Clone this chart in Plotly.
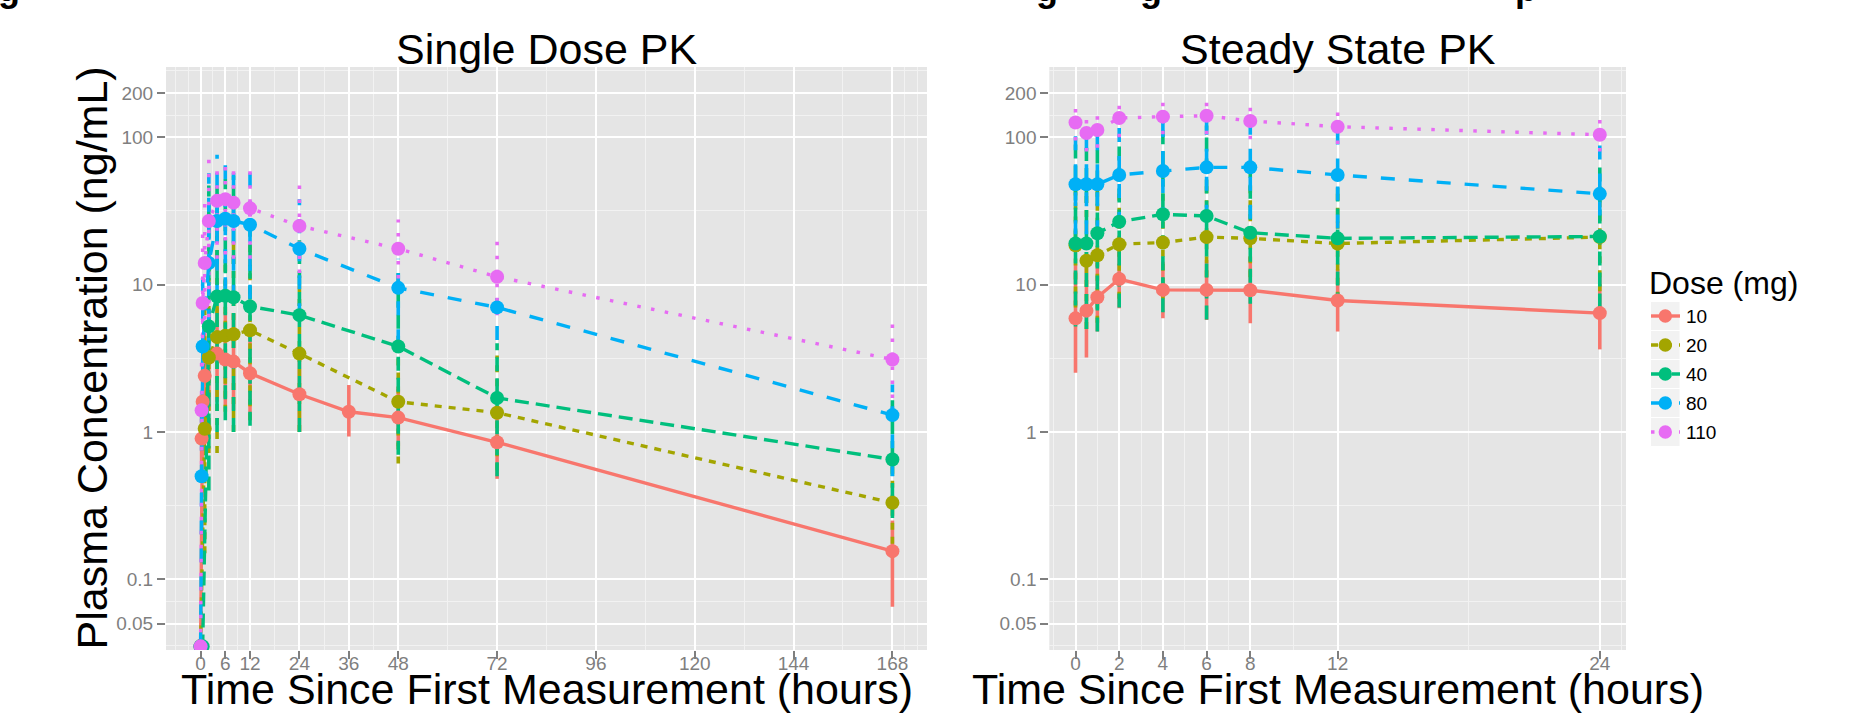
import math
import plotly.graph_objects as go

W, H = 1854, 719

DOSES = ["10", "20", "40", "80", "110"]
COLORS = {"10": "#F8766D", "20": "#A3A500", "40": "#00BF7D", "80": "#00B0F6", "110": "#E76BF3"}
DASH = {"10": "solid", "20": "7px,7px", "40": "14px,7px", "80": "14px,14px", "110": "3.5px,10.5px"}

# ---------------- Single dose data ----------------
SD_TIME = [0, 0.25, 0.5, 1, 2, 4, 6, 8, 12, 24, 36, 48, 72, 168]
SD_10 = [0.035, 0.9, 1.6, 2.4, 3.2, 3.4, 3.1, 3.0, 2.5, 1.8, 1.37, 1.25, 0.85, 0.155]
SD_10_LO = [None, 0.45, 0.7, 1.1, 1.4, 1.6, 1.5, 1.4, 1.2, 1.0, 0.93, 0.8, 0.48, 0.065]
SD_10_HI = [None, 1.8, 3.5, 5.0, 6.5, 7.0, 6.5, 6.3, 5.3, 3.3, 2.08, 1.95, 1.5, 0.25]
SD_20 = [0.035, None, None, 1.05, 3.2, 4.4, 4.5, 4.6, 4.9, 3.4, None, 1.6, 1.35, 0.33]
SD_20_LO = [None, None, None, 0.15, 0.72, 0.72, 1.37, 1.0, 1.2, 1.0, None, 0.61, 0.55, 0.14]
SD_20_HI = [None, None, None, 7.0, 14, 27, 15, 21, 20, 11.5, None, 4.2, 3.3, 0.78]
SD_40 = [0.035, None, 0.035, None, 5.2, 8.3, 8.4, 8.2, 7.1, 6.2, None, 3.8, 1.7, 0.65]
SD_40_LO = [None, None, None, None, 0.4, 1.0, 1.2, 1.0, 1.1, 1.0, None, 0.7, 0.5, 0.26]
SD_40_HI = [None, None, None, None, 47, 50, 52, 55, 40, 20, None, 12, 4.0, 1.64]
SD_80 = [0.035, 0.5, 3.8, None, 14, 27, 28, 27, 25.5, 17.5, None, 9.5, 7.0, 1.3]
SD_80_LO = [None, 0.2, 1.0, None, 3.5, 8, 9, 8, 8, 6, None, 4, 4.2, 0.5]
SD_80_HI = [None, 1.3, 14, None, 57, 76, 74, 68, 65, 38, None, 15, 10, 2.1]
SD_110 = [0.035, 1.4, 7.5, 14, 27, 37, 38, 36, 33, 25, None, 17.5, 11.3, 3.1]
SD_110_LO = [None, 0.6, 1.5, 3, 6, 15, 16, 15, 15, 12, None, 11, 6.2, 1.7]
SD_110_HI = [None, 3.2, 22, 40, 78, 62, 65, 62, 63, 52, None, 27.7, 20.6, 5.5]

# ---------------- Steady state data ----------------
SS_TIME = [0, 0.5, 1, 2, 4, 6, 8, 12, 24]
SS_10 = [5.9, 6.65, 8.2, 10.9, 9.2, 9.2, 9.15, 7.8, 6.4]
SS_10_LO = [2.52, 3.2, 4.8, 6.9, 5.9, 5.75, 5.46, 4.8, 3.63]
SS_10_HI = [13.8, 13.8, 14, 17, 14.3, 14.7, 15.3, 12.7, 11.3]
SS_20 = [18.5, 14.5, 15.8, 18.8, 19.3, 21, 20.6, 19, 21]
SS_20_LO = [7, 5, 5.5, 8, 8, 9, 9, 8, 9]
SS_20_HI = [48, 42, 45, 44, 47, 50, 47, 45, 48]
SS_40 = [19, 19, 22.3, 26.7, 30, 29.2, 22.5, 20.6, 21.2]
SS_40_LO = [5.2, 5.0, 4.8, 7.0, 6.5, 5.8, 7.4, 7.1, 7.0]
SS_40_HI = [100, 85, 82, 92, 137, 120, 68, 60, 64]
SS_80 = [48, 48, 48, 55.5, 59, 62.5, 62.5, 55.5, 41.3]
SS_80_LO = [22, 22, 22, 25, 27, 28, 28, 24, 19]
SS_80_HI = [103, 103, 103, 120, 128, 138, 138, 112, 90]
SS_110 = [126, 107, 112, 135, 138, 140, 129, 118, 104]
SS_110_LO = [95, 80, 85, 100, 105, 105, 97, 90, 80]
SS_110_HI = [165, 140, 145, 175, 180, 185, 170, 155, 135]

SD_XTICKS = [0, 6, 12, 24, 36, 48, 72, 96, 120, 144, 168]
SS_XTICKS = [0, 2, 4, 6, 8, 12, 24]
Y_TICKS = [0.05, 0.1, 1, 10, 100, 200]
Y_LABELS = ["0.05", "0.1", "1", "10", "100", "200"]

SD_MEANS = {"10": SD_10, "20": SD_20, "40": SD_40, "80": SD_80, "110": SD_110}
SD_LOS = {"10": SD_10_LO, "20": SD_20_LO, "40": SD_40_LO, "80": SD_80_LO, "110": SD_110_LO}
SD_HIS = {"10": SD_10_HI, "20": SD_20_HI, "40": SD_40_HI, "80": SD_80_HI, "110": SD_110_HI}
SS_MEANS = {"10": SS_10, "20": SS_20, "40": SS_40, "80": SS_80, "110": SS_110}
SS_LOS = {"10": SS_10_LO, "20": SS_20_LO, "40": SS_40_LO, "80": SS_80_LO, "110": SS_110_LO}
SS_HIS = {"10": SS_10_HI, "20": SS_20_HI, "40": SS_40_HI, "80": SS_80_HI, "110": SS_110_HI}

FONT = "Liberation Sans, Arial, Helvetica, sans-serif"
LW = 3.4

fig = go.Figure()


def add_panel(times, means, los, his, xa, ya):
    for d in DOSES:
        xs, ys = [], []
        for t, lo, hi in zip(times, los[d], his[d]):
            if lo is None or hi is None:
                continue
            xs += [t, t, None]
            ys += [lo, hi, None]
        fig.add_trace(go.Scatter(x=xs, y=ys, mode="lines", xaxis=xa, yaxis=ya,
                                 line=dict(color=COLORS[d], width=3.6, dash=DASH[d]),
                                 hoverinfo="skip", showlegend=False))
    for d in DOSES:
        fig.add_trace(go.Scatter(x=times, y=means[d], mode="lines", connectgaps=True,
                                 xaxis=xa, yaxis=ya,
                                 line=dict(color=COLORS[d], width=LW, dash=DASH[d]),
                                 showlegend=False))
    for d in DOSES:
        fig.add_trace(go.Scatter(x=times, y=means[d], mode="markers", xaxis=xa, yaxis=ya,
                                 marker=dict(size=14, color=COLORS[d], line=dict(width=0)),
                                 name=d, showlegend=False))


add_panel(SD_TIME, SD_MEANS, SD_LOS, SD_HIS, "x", "y")
add_panel(SS_TIME, SS_MEANS, SS_LOS, SS_HIS, "x2", "y2")


def minor_between(vals):
    b = list(vals)
    bd = b[1] - b[0]
    b = [b[0] - bd] + b + [b[-1] + bd]
    return [(a + c) / 2 for a, c in zip(b[:-1], b[1:])]


lg = [math.log10(v) for v in Y_TICKS]
y_minor = [10 ** m for m in minor_between(lg)]
sd_minor = minor_between(SD_XTICKS) + [SD_XTICKS[-1] + 6, SD_XTICKS[0] - 6]
ss_minor = minor_between(SS_XTICKS)

axis_common = dict(showline=False, zeroline=False, showgrid=True, gridcolor="white", gridwidth=2,
                   ticks="outside", ticklen=8, tickwidth=2, tickcolor="#7F7F7F",
                   tickfont=dict(family=FONT, size=19, color="#7F7F7F"), tickangle=0)
minor_common = dict(showgrid=True, gridcolor="#F2F2F2", gridwidth=1, ticks="")

ydom = [1 - 650 / H, 1 - 67 / H]
yrange = [-1.4807, 2.477]

fig.update_layout(
    width=W, height=H, autosize=False,
    margin=dict(l=0, r=0, t=0, b=0),
    paper_bgcolor="white", plot_bgcolor="#E5E5E5",
    showlegend=False,
    xaxis=dict(domain=[166 / W, 927 / W], range=[-8.4, 176.4], anchor="y",
               tickmode="array", tickvals=SD_XTICKS, ticktext=[str(v) for v in SD_XTICKS],
               ticklabelstandoff=-12,
               minor=dict(tickvals=sd_minor, **minor_common), **axis_common),
    yaxis=dict(type="log", domain=ydom, range=yrange, anchor="x",
               tickmode="array", tickvals=Y_TICKS, ticktext=Y_LABELS,
               minor=dict(tickvals=y_minor, **minor_common), **axis_common),
    xaxis2=dict(domain=[1049.3 / W, 1626 / W], range=[-1.2, 25.2], anchor="y2",
                tickmode="array", tickvals=SS_XTICKS, ticktext=[str(v) for v in SS_XTICKS],
                ticklabelstandoff=-12,
                minor=dict(tickvals=ss_minor, **minor_common), **axis_common),
    yaxis2=dict(type="log", domain=ydom, range=yrange, anchor="x2",
                tickmode="array", tickvals=Y_TICKS, ticktext=Y_LABELS,
                minor=dict(tickvals=y_minor, **minor_common), **axis_common),
)


def px(x):
    return x / W


def py(y):
    return 1 - y / H


ann = []
TITLE_SIZE = 43
for cx, txt in [(546.5, "Single Dose PK"), (1337.7, "Steady State PK")]:
    ann.append(dict(text=txt, x=px(cx), y=py(75), xref="paper", yref="paper",
                    xanchor="center", yanchor="bottom", showarrow=False,
                    font=dict(family=FONT, size=TITLE_SIZE, color="black")))
    ann.append(dict(text="Time Since First Measurement (hours)", x=px(cx), y=py(714.5),
                    xref="paper", yref="paper", xanchor="center", yanchor="bottom",
                    showarrow=False, font=dict(family=FONT, size=TITLE_SIZE, color="black")))
ann.append(dict(text="Plasma Concentration (ng/mL)", x=px(91), y=py(358.5), xref="paper",
                yref="paper", xanchor="center", yanchor="middle", textangle=-90,
                showarrow=False, font=dict(family=FONT, size=TITLE_SIZE, color="black")))

# clipped descenders of a heading that lies above the figure
for cx, ch in [(9, "g"), (1046.5, "g"), (1151, "g"), (1526, "p")]:
    ann.append(dict(text="<b>%s</b>" % ch, x=px(cx), y=py(11), xref="paper", yref="paper",
                    xanchor="center", yanchor="bottom", showarrow=False,
                    font=dict(family=FONT, size=36, color="black")))

# legend
ann.append(dict(text="Dose (mg)", x=px(1647), y=py(282.5), xref="paper", yref="paper",
                xanchor="left", yanchor="middle", showarrow=False,
                font=dict(family=FONT, size=32, color="black")))
shapes = []
for i, d in enumerate(DOSES):
    cy = 316 + 29 * i
    shapes.append(dict(type="rect", xref="paper", yref="paper",
                       x0=px(1650.5), x1=px(1680), y0=py(cy - 14.5), y1=py(cy + 14.5),
                       fillcolor="#F2F2F2", line=dict(color="white", width=1), layer="below"))
    shapes.append(dict(type="line", xref="paper", yref="paper",
                       x0=px(1651), x1=px(1680), y0=py(cy), y1=py(cy),
                       line=dict(color=COLORS[d], width=LW, dash=DASH[d])))
    r = 6.7
    shapes.append(dict(type="circle", xref="paper", yref="paper",
                       x0=px(1665.3 - r), x1=px(1665.3 + r), y0=py(cy - r), y1=py(cy + r),
                       fillcolor=COLORS[d], line=dict(width=0)))
    ann.append(dict(text=d, x=px(1684), y=py(cy), xref="paper", yref="paper",
                    xanchor="left", yanchor="middle", showarrow=False,
                    font=dict(family=FONT, size=19, color="black")))

fig.update_layout(annotations=ann, shapes=shapes)
fig.write_html("out.html", config={"displayModeBar": False},
               post_script="document.body.style.margin='0';document.body.style.overflow='hidden';")
